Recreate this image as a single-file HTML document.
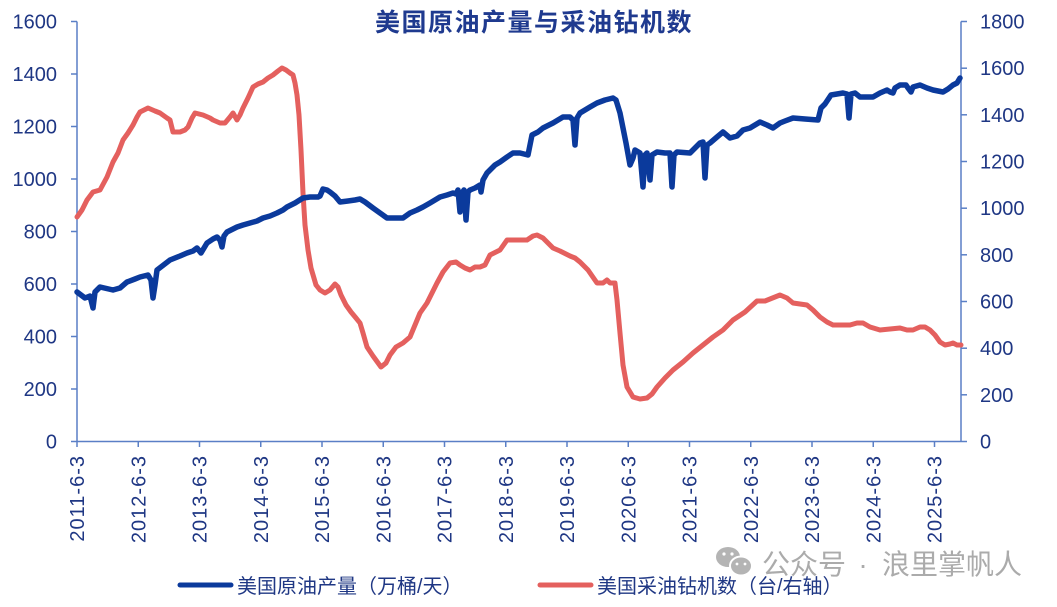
<!DOCTYPE html>
<html>
<head>
<meta charset="utf-8">
<style>
html,body{margin:0;padding:0;background:#fff;}
svg{display:block;}
text{font-family:"Liberation Sans","Noto Sans CJK SC",sans-serif;}
</style>
</head>
<body>
<svg width="1057" height="607" viewBox="0 0 1057 607" xmlns="http://www.w3.org/2000/svg">
<rect width="1057" height="607" fill="#fff"/>
<!-- title -->
<text x="534" y="31" text-anchor="middle" font-size="25" font-weight="bold" fill="#1f3a8f" letter-spacing="1.5">美国原油产量与采油钻机数</text>

<!-- axes -->
<g stroke="#5a7fc6" stroke-width="1.5" fill="none">
<line x1="77" y1="21.5" x2="77" y2="441.5"/>
<line x1="961" y1="21.5" x2="961" y2="441.5"/>
<line x1="77" y1="441.5" x2="961" y2="441.5"/>
<line x1="71" y1="441.5" x2="77" y2="441.5"/>
<line x1="71" y1="389" x2="77" y2="389"/>
<line x1="71" y1="336.5" x2="77" y2="336.5"/>
<line x1="71" y1="284" x2="77" y2="284"/>
<line x1="71" y1="231.5" x2="77" y2="231.5"/>
<line x1="71" y1="179" x2="77" y2="179"/>
<line x1="71" y1="126.5" x2="77" y2="126.5"/>
<line x1="71" y1="74" x2="77" y2="74"/>
<line x1="71" y1="21.5" x2="77" y2="21.5"/>
<line x1="961" y1="441.5" x2="967" y2="441.5"/>
<line x1="961" y1="394.8" x2="967" y2="394.8"/>
<line x1="961" y1="348.2" x2="967" y2="348.2"/>
<line x1="961" y1="301.5" x2="967" y2="301.5"/>
<line x1="961" y1="254.8" x2="967" y2="254.8"/>
<line x1="961" y1="208.2" x2="967" y2="208.2"/>
<line x1="961" y1="161.5" x2="967" y2="161.5"/>
<line x1="961" y1="114.8" x2="967" y2="114.8"/>
<line x1="961" y1="68.2" x2="967" y2="68.2"/>
<line x1="961" y1="21.5" x2="967" y2="21.5"/>
<line x1="77" y1="441.5" x2="77" y2="447"/>
<line x1="138.25" y1="441.5" x2="138.25" y2="447"/>
<line x1="199.5" y1="441.5" x2="199.5" y2="447"/>
<line x1="260.75" y1="441.5" x2="260.75" y2="447"/>
<line x1="322" y1="441.5" x2="322" y2="447"/>
<line x1="383.25" y1="441.5" x2="383.25" y2="447"/>
<line x1="444.5" y1="441.5" x2="444.5" y2="447"/>
<line x1="505.75" y1="441.5" x2="505.75" y2="447"/>
<line x1="567" y1="441.5" x2="567" y2="447"/>
<line x1="628.25" y1="441.5" x2="628.25" y2="447"/>
<line x1="689.5" y1="441.5" x2="689.5" y2="447"/>
<line x1="750.75" y1="441.5" x2="750.75" y2="447"/>
<line x1="812" y1="441.5" x2="812" y2="447"/>
<line x1="873.25" y1="441.5" x2="873.25" y2="447"/>
<line x1="934.5" y1="441.5" x2="934.5" y2="447"/>
</g>

<!-- left labels -->
<g font-size="20" fill="#1f3784" text-anchor="end">
<text x="57" y="448.5">0</text>
<text x="57" y="396">200</text>
<text x="57" y="343.5">400</text>
<text x="57" y="291">600</text>
<text x="57" y="238.5">800</text>
<text x="57" y="186">1000</text>
<text x="57" y="133.5">1200</text>
<text x="57" y="81">1400</text>
<text x="57" y="28.5">1600</text>
</g>
<!-- right labels -->
<g font-size="20" fill="#1f3784" text-anchor="start">
<text x="980" y="448.5">0</text>
<text x="980" y="401.8">200</text>
<text x="980" y="355.2">400</text>
<text x="980" y="308.5">600</text>
<text x="980" y="261.8">800</text>
<text x="980" y="215.2">1000</text>
<text x="980" y="168.5">1200</text>
<text x="980" y="121.8">1400</text>
<text x="980" y="75.2">1600</text>
<text x="980" y="28.5">1800</text>
</g>
<!-- x labels -->
<g font-size="20" fill="#1f3784" text-anchor="end" letter-spacing="1">
<text transform="translate(84,455) rotate(-90)">2011-6-3</text>
<text transform="translate(145.25,455) rotate(-90)">2012-6-3</text>
<text transform="translate(206.5,455) rotate(-90)">2013-6-3</text>
<text transform="translate(267.75,455) rotate(-90)">2014-6-3</text>
<text transform="translate(329,455) rotate(-90)">2015-6-3</text>
<text transform="translate(390.25,455) rotate(-90)">2016-6-3</text>
<text transform="translate(451.5,455) rotate(-90)">2017-6-3</text>
<text transform="translate(512.75,455) rotate(-90)">2018-6-3</text>
<text transform="translate(574,455) rotate(-90)">2019-6-3</text>
<text transform="translate(635.25,455) rotate(-90)">2020-6-3</text>
<text transform="translate(696.5,455) rotate(-90)">2021-6-3</text>
<text transform="translate(757.75,455) rotate(-90)">2022-6-3</text>
<text transform="translate(819,455) rotate(-90)">2023-6-3</text>
<text transform="translate(880.25,455) rotate(-90)">2024-6-3</text>
<text transform="translate(941.5,455) rotate(-90)">2025-6-3</text>
</g>

<!-- red series: rigs -->
<polyline fill="none" stroke="#e4605e" stroke-width="5" stroke-linejoin="round" stroke-linecap="round" points="77,217 82,210 87,200 93,192 100,190 107,177 113,162 118,153 123,140 128,133 133,125 137,117 140,112 148,108 155,111 160,113 167,118 170,120 173,132 180,132 185,130 188,127 192,118 195,113 203,115 210,118 213,120 220,123 225,123 230,117 233,113 237,120 240,115 243,108 248,98 253,87 258,84 263,82 268,78 273,75 278,71 282,68 286,70 290,73 293,75 295,83 297,95 299,115 301,150 303,193 305,225 308,250 311,268 316,285 320,290 325,293 330,290 335,284 338,287 341,295 346,305 351,312 356,318 360,323 363,333 367,347 373,356 381,367 386,363 390,355 396,347 403,343 410,337 415,325 420,313 427,303 432,293 437,283 443,272 450,263 456,262 460,265 465,268 470,270 475,267 480,267 485,265 490,255 500,250 507,240 515,240 527,240 533,236 537,235 543,238 553,248 560,251 570,256 575,258 580,262 588,270 597,283 603,283 607,280 610,283 615,283 617,300 620,333 623,365 627,387 633,397 640,399 647,398 652,394 657,387 665,378 673,370 683,362 693,353 703,345 713,337 723,330 733,320 745,312 757,301 765,301 775,297 780,295 787,298 793,303 800,304 807,305 813,310 820,317 827,322 833,325 842,325 850,325 857,323 863,323 870,327 880,330 890,329 900,328 907,330 913,330 920,327 925,327 930,330 935,335 940,342 945,345 950,344 953,343 957,345 961,345"/>

<!-- blue series: production -->
<polyline fill="none" stroke="#0b3a9c" stroke-width="5.5" stroke-linejoin="round" stroke-linecap="round" points="77,292 85,298 90,296 93,308 95,292 100,287 113,290 120,288 127,282 135,279 140,277 148,275 151,280 153,298 155,285 157,270 170,260 180,256 187,253 193,251 197,248 201,253 207,243 213,239 217,237 220,240 222,247 224,236 227,232 237,227 243,225 250,223 257,221 263,218 270,216 277,213 283,210 287,207 295,203 303,198 310,197 318,197 320,196 323,189 327,190 330,192 335,196 340,202 348,201 355,200 360,199 365,202 373,208 380,213 387,218 395,218 403,218 410,213 417,210 423,207 430,203 440,197 447,195 453,193 456,194 458,190 460,212 462,193 464,190 466,220 468,192 470,190 475,188 480,185 481,192 483,180 487,173 495,165 500,162 507,157 513,153 520,153 528,155 530,145 532,135 538,132 543,128 553,123 563,117 570,117 573,120 575,145 577,118 580,113 590,107 597,103 605,100 613,98 616,100 620,113 626,143 630,165 633,158 635,150 640,153 643,187 645,155 647,153 650,180 652,155 657,152 665,153 670,153 672,187 674,155 677,152 690,153 695,148 700,143 703,142 705,178 707,145 710,143 717,137 723,132 730,138 737,136 743,130 750,128 755,125 760,122 767,125 773,128 780,123 785,121 793,118 805,119 818,120 821,108 825,104 831,95 843,93 847,94 849,118 851,94 855,93 860,97 873,97 880,93 887,90 890,92 893,93 895,88 900,85 906,85 908,88 911,92 913,87 920,85 927,88 933,90 938,91 943,92 948,89 953,85 957,83 960,78"/>

<!-- watermark -->
<g fill="#b4b4b4">
<ellipse cx="728" cy="557" rx="12" ry="10"/>
<ellipse cx="741" cy="566" rx="11" ry="9.5" stroke="#fff" stroke-width="2"/>
<circle cx="724" cy="554" r="1.6" fill="#fff"/>
<circle cx="732" cy="554" r="1.6" fill="#fff"/>
<circle cx="737" cy="564" r="1.4" fill="#fff"/>
<circle cx="745" cy="564" r="1.4" fill="#fff"/>
</g>
<g font-size="28" fill="#ababab">
<text x="762" y="574">公众号</text>
<text x="863" y="574" text-anchor="middle">·</text>
<text x="882" y="574">浪里掌帆人</text>
</g>

<!-- legend -->
<line x1="180" y1="585" x2="231" y2="585" stroke="#0b3a9c" stroke-width="5" stroke-linecap="round"/>
<text x="237" y="593" font-size="20" fill="#1f3784">美国原油产量（万桶/天）</text>
<line x1="540" y1="585" x2="591" y2="585" stroke="#e4605e" stroke-width="5" stroke-linecap="round"/>
<text x="597" y="593" font-size="20" fill="#1f3784">美国采油钻机数（台/右轴）</text>
</svg>
</body>
</html>
